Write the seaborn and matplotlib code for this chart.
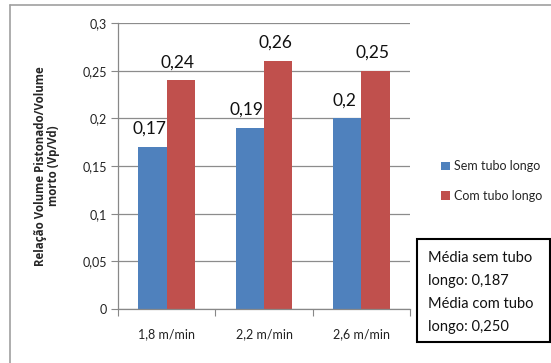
import matplotlib
matplotlib.use("Agg")
import matplotlib.pyplot as plt
import seaborn as sns
import pandas as pd
from matplotlib.patches import Rectangle, Patch
from matplotlib.lines import Line2D

categories = ["1,8 m/min", "2,2 m/min", "2,6 m/min"]
sem_tubo = [0.17, 0.19, 0.20]
com_tubo = [0.24, 0.26, 0.25]
series_names = ["Sem tubo longo", "Com tubo longo"]
yticks = [0, 0.05, 0.1, 0.15, 0.2, 0.25, 0.3]
ylabel = "Relação Volume Pistonado/Volume\nmorto (Vp/Vd)"
box_lines = ["Média sem tubo", "longo: 0,187", "Média com tubo", "longo: 0,250"]
colors = ["#4F81BD", "#C0504D"]

sns.set_style("white")
plt.rcParams["font.family"] = ["Lato", "DejaVu Sans"]

df = pd.DataFrame({
    "cat": categories * 2,
    "val": sem_tubo + com_tubo,
    "serie": [series_names[0]] * 3 + [series_names[1]] * 3,
})

W, H = 551, 363
fig = plt.figure(figsize=(W / 100, H / 100), dpi=100)
ax = fig.add_axes([118 / W, 1 - 309 / H, (410 - 118) / W, (309 - 23) / H])

sns.barplot(data=df, x="cat", y="val", hue="serie", palette=colors,
            width=0.58, ax=ax, legend=False, saturation=1, linewidth=0)

ax.set_xlim(-0.5, 2.5)
ax.set_ylim(0, 0.3)
ax.set_yticks(yticks)
ax.set_yticklabels([("%g" % t).replace(".", ",") for t in yticks], fontsize=9, color="#222222")
ax.set_xlabel("")
ax.set_ylabel(ylabel, fontsize=8.3, fontweight="bold", labelpad=16, linespacing=1.05,
              family=["Open Sans", "DejaVu Sans"])
ax.tick_params(axis="y", length=5, color="#888888", width=0.8, pad=3, left=True)
ax.tick_params(axis="x", length=0, pad=14, labelsize=9, labelcolor="#222222")
ax.set_xticks([-0.5, 0.5, 1.5, 2.5], minor=True)
ax.tick_params(axis="x", which="minor", length=5, color="#888888", width=0.8, bottom=True)

ax.yaxis.grid(True, color="#8c8c8c", linewidth=0.9)
ax.set_axisbelow(True)
for s in ["top", "right"]:
    ax.spines[s].set_visible(False)
for s in ["left", "bottom"]:
    ax.spines[s].set_color("#888888")
    ax.spines[s].set_linewidth(0.9)

for i, cont in enumerate(ax.containers):
    for bar in cont:
        h = bar.get_height()
        ax.annotate(("%g" % h).replace(".", ","),
                    (bar.get_x() + bar.get_width() / 2 - 0.03, h),
                    xytext=(0, 13), textcoords="offset points",
                    ha="center", va="center", fontsize=12.5, color="#111111")

handles = [Patch(facecolor=c, edgecolor="none") for c in colors]
fig.legend(handles, series_names, loc="center left",
           bbox_to_anchor=(430 / W, 1 - 181 / H), frameon=False,
           fontsize=9, handlelength=0.7, handleheight=0.7,
           handletextpad=0.3, labelspacing=1.4)

# outer chart border
fig.add_artist(Line2D([10 / W, 1], [1 - 5 / H, 1 - 5 / H], transform=fig.transFigure,
                      color="#a0a0a0", linewidth=1.2))
fig.add_artist(Line2D([10 / W, 10 / W], [0, 1 - 5 / H], transform=fig.transFigure,
                      color="#a0a0a0", linewidth=1.2))

# info box
fig.add_artist(Rectangle((417 / W, 1 - 342 / H), (550 - 417) / W, (342 - 239) / H,
                         transform=fig.transFigure, facecolor="white",
                         edgecolor="black", linewidth=1.5))
for k, line in enumerate(box_lines):
    fig.text(428 / W, 1 - (258 + k * 23) / H, line, fontsize=10.5,
             va="center", ha="left", color="#111111")

fig.savefig("out.png", dpi=100)
